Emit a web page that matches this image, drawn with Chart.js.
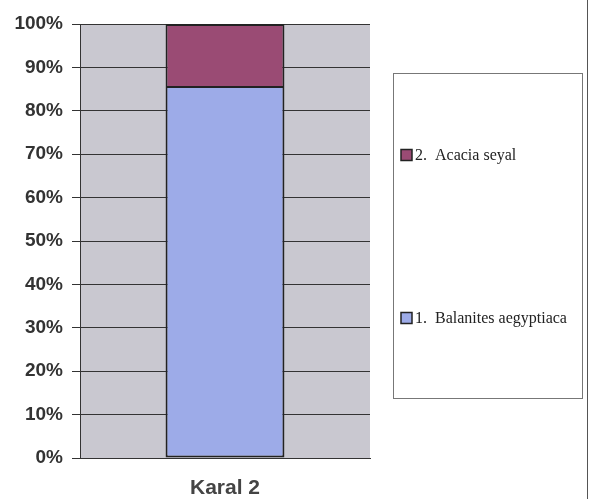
<!DOCTYPE html>
<html lang="en">
<head>
    <meta charset="UTF-8">
    <title>Karal 2</title>
    <script src="https://cdn.jsdelivr.net/npm/chart.js@4.4.0/dist/chart.umd.min.js"></script>
    <style>
        body { margin: 0; background: #ffffff; }
        .wrap { width: 590px; height: 499px; position: relative; }
    </style>
</head>
<body>
    <div class="wrap"><canvas id="chart" width="590" height="499"></canvas></div>
    <script>
        const categories = ["Karal 2"];
        const seriesNames = ["1.  Balanites aegyptiaca", "2.  Acacia seyal"];
        const balanites = [85.7];
        const acacia = [14.3];
        const seriesColors = ["#9dabe8", "#9a4b74"];

        // grey plot area and the outer frame line
        const plotBg = {
            id: 'plotBg',
            beforeDraw(chart) {
                const { ctx, chartArea: a } = chart;
                ctx.save();
                ctx.fillStyle = '#c9c8d0';
                ctx.fillRect(a.left, a.top, a.right - a.left, a.bottom - a.top);
                ctx.strokeStyle = '#555';
                ctx.lineWidth = 1;
                ctx.beginPath();
                ctx.moveTo(587.5, 0);
                ctx.lineTo(587.5, 499);
                ctx.stroke();
                ctx.restore();
            }
        };

        // legend box on the right, top series first
        const sideLegend = {
            id: 'sideLegend',
            afterDraw(chart) {
                const ctx = chart.ctx;
                ctx.save();
                ctx.strokeStyle = '#777';
                ctx.lineWidth = 1;
                ctx.strokeRect(393.5, 73.5, 189, 325);
                const rows = [155, 318];
                const ds = chart.data.datasets.slice().reverse();
                ds.forEach((d, i) => {
                    const y = rows[i];
                    ctx.fillStyle = d.backgroundColor;
                    ctx.fillRect(401, y - 5, 11, 11);
                    ctx.strokeStyle = '#222';
                    ctx.lineWidth = 1.5;
                    ctx.strokeRect(401, y - 5.5, 11, 11);
                    ctx.fillStyle = '#222';
                    ctx.font = '16px "Liberation Serif", "Times New Roman", serif';
                    ctx.textBaseline = 'middle';
                    ctx.fillText(d.label, 415, y + 1);
                });
                ctx.restore();
            }
        };

        new Chart(document.getElementById('chart'), {
            type: 'bar',
            data: {
                labels: categories,
                datasets: [
                    { label: seriesNames[0], data: balanites, backgroundColor: seriesColors[0], borderSkipped: false },
                    { label: seriesNames[1], data: acacia, backgroundColor: seriesColors[1], borderSkipped: 'bottom' }
                ].map(d => Object.assign(d, {
                    borderColor: '#222',
                    borderWidth: 2,
                    categoryPercentage: 1,
                    barPercentage: 0.41
                }))
            },
            options: {
                responsive: false,
                animation: false,
                layout: { padding: { top: 24, right: 220, bottom: 0, left: 0 } },
                plugins: {
                    legend: { display: false },
                    tooltip: { enabled: false }
                },
                scales: {
                    x: {
                        stacked: true,
                        grid: { display: false },
                        border: { color: '#333', width: 1 },
                        ticks: {
                            color: '#444',
                            font: { family: 'Liberation Sans, Arial', size: 21, weight: 'bold' },
                            padding: 10
                        },
                        afterFit: s => { s.height = 41; }
                    },
                    y: {
                        stacked: true,
                        min: 0,
                        max: 100,
                        grid: { color: '#333', lineWidth: 1, tickLength: 8, drawOnChartArea: true },
                        border: { color: '#333', width: 1 },
                        ticks: {
                            stepSize: 10,
                            color: '#333',
                            padding: 9,
                            font: { family: 'Liberation Sans, Arial', size: 19, weight: 'bold' },
                            callback: v => v + '%'
                        },
                        afterFit: s => { s.width = 80; }
                    }
                }
            },
            plugins: [plotBg, sideLegend]
        });
    </script>
</body>
</html>
